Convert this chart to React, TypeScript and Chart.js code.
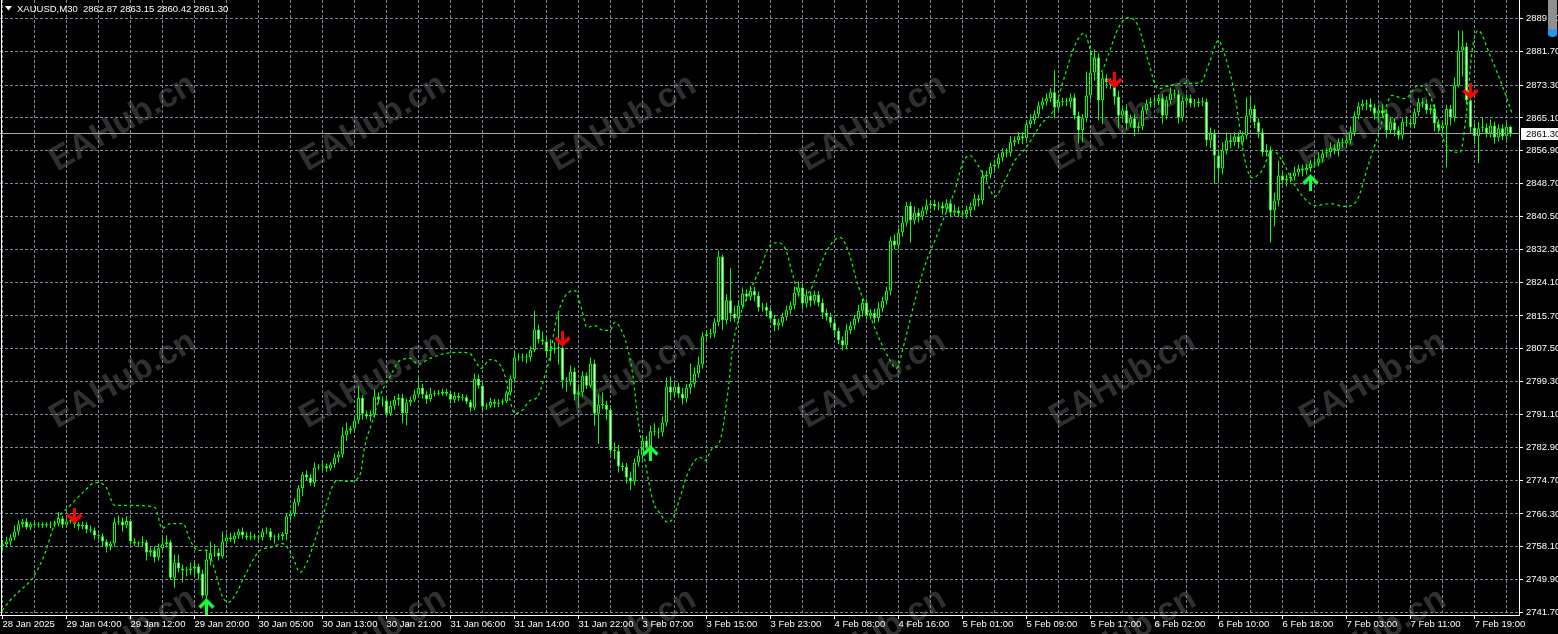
import React, { useEffect, useRef } from "react";
import { Chart, registerables } from "chart.js";

Chart.register(...registerables);

// ---------- data ----------
const symbol = "XAUUSD,M30";
const firstOpen = 2758.2;

const closes = [
  2758.7, 2759.4, 2760.4, 2761.9, 2763.7, 2764.4, 2762.9, 2763.7, 2763.6, 2763.4,
  2763.7, 2763.4, 2763.6, 2763.9, 2765.2, 2763.6, 2764.4, 2764.7, 2763.7, 2763.2,
  2763.6, 2762.4, 2762.2, 2760.9, 2760.7, 2759.4, 2758.2, 2758.9, 2764.2, 2764.4,
  2763.4, 2764.5, 2759.4, 2758.9, 2759.0, 2759.2, 2756.7, 2757.2, 2755.4, 2757.7,
  2758.7, 2759.2, 2750.4, 2754.2, 2752.7, 2752.2, 2752.3, 2752.7, 2753.2, 2751.4,
  2745.9, 2754.9, 2756.4, 2756.7, 2755.7, 2759.4, 2760.4, 2759.9, 2760.9, 2761.9,
  2760.9, 2760.4, 2760.7, 2760.4, 2760.5, 2761.9, 2762.0, 2760.4, 2760.5, 2760.7,
  2761.2, 2765.7, 2766.4, 2769.2, 2772.7, 2776.1, 2775.4, 2774.1, 2777.9, 2778.1,
  2778.2, 2777.6, 2778.6, 2780.4, 2781.1, 2785.9, 2787.1, 2787.6, 2789.6, 2795.3,
  2791.3, 2790.6, 2791.1, 2795.6, 2794.8, 2794.6, 2791.3, 2793.3, 2794.8, 2795.3,
  2791.4, 2794.1, 2794.8, 2796.1, 2797.8, 2796.1, 2794.9, 2796.3, 2796.4, 2796.3,
  2796.8, 2796.3, 2794.8, 2795.8, 2795.3, 2795.4, 2794.3, 2792.8, 2800.1, 2798.3,
  2793.1, 2793.3, 2794.3, 2793.8, 2794.1, 2794.4, 2796.6, 2800.1, 2805.3, 2805.4,
  2805.3, 2805.4, 2807.1, 2812.3, 2809.8, 2809.3, 2806.8, 2807.3, 2807.6, 2807.8,
  2799.6, 2799.3, 2801.8, 2796.1, 2796.6, 2800.8, 2798.3, 2803.8, 2791.3, 2793.6,
  2793.5, 2792.3, 2782.1, 2782.0, 2778.1, 2778.0, 2775.4, 2774.4, 2779.1, 2780.9,
  2784.6, 2782.9, 2786.9, 2786.8, 2786.6, 2789.1, 2798.1, 2796.6, 2798.1, 2796.3,
  2795.1, 2797.8, 2798.8, 2801.3, 2803.6, 2810.6, 2811.1, 2811.3, 2814.1, 2830.5,
  2814.6, 2819.6, 2816.3, 2815.1, 2818.3, 2821.3, 2820.5, 2822.0, 2820.8, 2817.8,
  2818.0, 2817.0, 2815.0, 2813.3, 2814.0, 2815.5, 2817.1, 2818.3, 2821.5, 2822.8,
  2818.8, 2820.8, 2819.5, 2821.0, 2819.0, 2816.5, 2815.5, 2814.0, 2812.0, 2809.6,
  2808.3, 2812.1, 2813.3, 2815.0, 2817.0, 2819.0, 2815.8, 2816.5, 2815.1, 2817.6,
  2819.5, 2822.0, 2834.5, 2833.3, 2836.5, 2839.0, 2843.2, 2839.5, 2841.5, 2840.5,
  2842.0, 2843.3, 2843.7, 2843.0, 2843.2, 2842.5, 2843.8, 2841.5, 2842.0, 2841.3,
  2841.0, 2842.1, 2843.0, 2845.0, 2844.5, 2850.5, 2851.0, 2853.0, 2853.5, 2855.2,
  2856.5, 2856.4, 2859.0, 2859.5, 2860.5, 2860.0, 2863.5, 2864.5, 2866.0, 2868.2,
  2869.2, 2870.0, 2871.5, 2867.7, 2869.2, 2869.0, 2869.1, 2870.2, 2865.7, 2862.0,
  2865.0, 2870.7, 2876.4, 2880.2, 2869.5, 2875.0, 2874.0, 2873.4, 2870.4, 2865.7,
  2867.0, 2863.7, 2865.0, 2862.5, 2863.0, 2867.0, 2868.7, 2869.2, 2869.3, 2870.0,
  2865.7, 2869.5, 2871.2, 2871.0, 2865.2, 2869.4, 2870.0, 2868.7, 2868.8, 2869.0,
  2869.2, 2859.5, 2861.2, 2855.7, 2852.5, 2857.0, 2859.5, 2859.0, 2860.5, 2859.0,
  2860.7, 2865.7, 2867.4, 2864.0, 2861.5, 2856.5, 2857.0, 2842.0, 2844.5, 2850.7,
  2849.5, 2850.0, 2850.5, 2851.5, 2852.5, 2852.0, 2852.6, 2853.7, 2854.0, 2855.0,
  2856.2, 2856.5, 2857.5, 2857.0, 2859.0, 2858.7, 2859.5, 2861.5, 2865.7, 2868.0,
  2868.7, 2868.5, 2867.7, 2866.2, 2867.0, 2866.2, 2862.0, 2864.0, 2862.0, 2860.7,
  2864.0, 2863.9, 2863.5, 2866.5, 2869.0, 2868.7, 2867.0, 2867.5, 2863.7, 2862.5,
  2863.2, 2867.4, 2865.2, 2873.2, 2881.9, 2882.9, 2869.5, 2862.7, 2860.5, 2862.5,
  2862.7, 2861.2, 2863.2, 2860.2, 2862.5, 2860.5, 2862.87, 2861.3,
];

const upperWick = [
  1.0, 1.2, 0.8, 1.5, 1.0, 0.6, 0.8, 0.5, 0.7, 0.6,
  0.5, 0.6, 0.8, 0.7, 1.5, 0.6, 0.8, 0.7, 1.0, 0.6,
  0.8, 0.6, 1.0, 0.7, 0.5, 0.8, 0.6, 0.5, 1.2, 1.5,
  1.0, 1.2, 0.6, 0.8, 0.5, 1.5, 0.6, 0.8, 1.0, 1.2,
  2.0, 1.8, 0.5, 2.0, 2.0, 1.0, 0.8, 1.5, 1.0, 0.7,
  1.0, 2.5, 3.0, 2.0, 1.0, 2.5, 1.0, 1.2, 0.8, 0.7,
  1.0, 0.8, 1.2, 0.6, 0.5, 0.8, 1.0, 0.7, 0.6, 0.8,
  0.6, 0.7, 0.8, 1.0, 0.8, 0.6, 1.0, 0.8, 1.2, 0.6,
  0.8, 0.7, 0.6, 1.0, 0.8, 2.0, 2.0, 0.7, 1.0, 3.0,
  0.6, 0.8, 1.0, 1.8, 1.0, 0.8, 1.0, 1.2, 0.9, 1.0,
  1.0, 1.0, 0.8, 1.2, 2.5, 1.0, 0.8, 1.5, 0.6, 0.8,
  0.7, 0.8, 0.6, 1.0, 0.7, 0.8, 0.6, 0.5, 1.2, 1.0,
  0.8, 0.6, 1.0, 0.7, 0.8, 0.6, 0.5, 0.8, 1.5, 1.0,
  1.0, 0.8, 1.0, 4.7, 1.2, 2.0, 1.0, 2.5, 1.5, 8.5,
  1.0, 0.8, 1.5, 1.0, 2.0, 1.0, 0.8, 1.5, 1.0, 2.5,
  3.0, 1.0, 1.0, 2.0, 1.5, 1.0, 1.0, 1.5, 1.0, 1.5,
  1.0, 1.2, 1.5, 2.0, 1.0, 1.5, 2.2, 2.5, 1.0, 1.0,
  1.5, 1.0, 5.0, 1.5, 2.0, 1.0, 1.0, 1.2, 1.0, 1.5,
  0.5, 1.5, 8.0, 2.0, 1.0, 1.5, 1.0, 1.2, 1.0, 1.0,
  1.0, 1.0, 0.8, 1.0, 1.0, 1.0, 1.2, 1.0, 1.5, 1.5,
  1.0, 1.5, 1.0, 1.0, 1.0, 1.0, 1.0, 1.0, 1.0, 0.8,
  1.0, 1.5, 1.0, 1.0, 1.5, 1.0, 1.0, 1.0, 1.0, 1.5,
  1.0, 1.0, 1.0, 1.5, 1.0, 1.5, 1.0, 1.0, 1.5, 1.0,
  1.0, 1.5, 0.8, 1.0, 1.0, 1.0, 1.0, 1.0, 1.5, 1.0,
  0.8, 1.0, 1.0, 1.2, 1.0, 1.5, 1.0, 1.0, 1.2, 1.0,
  1.0, 1.0, 1.5, 1.0, 1.0, 1.0, 1.0, 1.5, 1.0, 1.0,
  1.0, 1.2, 1.0, 5.5, 1.5, 1.0, 1.0, 1.0, 1.0, 1.0,
  1.0, 6.0, 5.7, 2.0, 1.0, 1.5, 1.0, 1.0, 1.0, 1.5,
  1.0, 1.5, 1.0, 1.0, 1.0, 1.0, 1.0, 1.0, 1.0, 1.0,
  1.0, 1.0, 1.5, 1.0, 1.0, 1.0, 1.0, 1.0, 1.0, 1.0,
  1.0, 0.8, 1.5, 1.0, 1.5, 2.0, 2.0, 1.5, 1.0, 1.0,
  1.0, 4.5, 3.0, 1.0, 1.0, 1.0, 1.5, 1.0, 2.0, 3.7,
  1.0, 1.0, 1.0, 1.5, 1.0, 1.0, 1.0, 1.0, 1.0, 1.5,
  1.0, 1.0, 1.5, 1.0, 1.0, 1.0, 1.0, 1.5, 1.0, 1.0,
  1.0, 1.0, 1.5, 1.0, 1.0, 1.5, 1.0, 1.0, 1.0, 1.0,
  1.0, 1.5, 1.0, 1.0, 1.0, 1.0, 1.0, 1.0, 1.0, 1.0,
  1.0, 1.0, 1.0, 2.0, 5.0, 4.0, 1.0, 1.0, 1.0, 1.5,
  2.5, 1.0, 1.5, 1.0, 1.0, 1.0, 1.0, 0.28,
];

const lowerWick = [
  1.2, 0.8, 1.0, 0.7, 1.0, 0.8, 0.5, 0.6, 0.9, 0.5,
  0.6, 0.5, 0.7, 0.6, 0.8, 0.9, 0.6, 0.5, 0.9, 1.0,
  0.7, 0.9, 0.6, 1.0, 0.8, 1.2, 1.5, 1.0, 0.8, 0.6,
  1.5, 0.7, 0.8, 0.6, 0.9, 0.7, 2.0, 1.0, 1.2, 0.8,
  0.6, 0.8, 0.6, 2.5, 1.0, 3.0, 1.5, 1.2, 2.0, 1.5,
  0.6, 1.0, 1.5, 0.8, 1.0, 0.5, 0.8, 0.6, 1.0, 0.8,
  0.8, 0.6, 0.7, 0.5, 1.0, 0.9, 0.6, 0.7, 1.5, 0.8,
  1.0, 1.5, 1.2, 0.8, 1.0, 2.0, 0.7, 0.8, 1.0, 0.7,
  1.0, 0.8, 0.6, 0.8, 1.2, 0.8, 1.5, 0.8, 1.0, 0.8,
  1.5, 0.6, 1.2, 0.8, 1.0, 1.5, 0.8, 0.6, 1.0, 1.5,
  2.5, 3.0, 0.8, 0.6, 0.7, 1.0, 1.2, 0.6, 0.8, 0.5,
  0.5, 0.6, 1.0, 0.8, 0.9, 0.7, 0.6, 1.0, 0.6, 0.8,
  1.0, 0.8, 0.6, 1.0, 0.8, 0.6, 0.5, 0.8, 1.0, 0.8,
  1.0, 1.5, 1.0, 0.5, 1.0, 0.8, 1.2, 2.5, 1.0, 4.0,
  2.0, 2.5, 1.0, 1.5, 3.0, 1.0, 0.8, 0.5, 3.0, 7.5,
  1.0, 2.5, 1.0, 2.0, 1.5, 1.0, 1.5, 2.2, 1.0, 1.0,
  1.0, 1.5, 0.8, 1.0, 1.5, 1.0, 1.0, 2.0, 1.0, 1.0,
  1.5, 1.0, 1.5, 1.0, 1.0, 1.0, 1.0, 1.0, 1.0, 1.0,
  2.5, 1.0, 2.0, 1.0, 1.0, 0.8, 1.0, 1.0, 1.5, 1.0,
  1.0, 1.5, 1.0, 1.5, 1.2, 1.0, 1.0, 1.0, 1.0, 1.0,
  1.5, 1.0, 1.5, 1.0, 1.0, 1.5, 1.0, 1.2, 1.5, 1.0,
  1.2, 1.0, 1.0, 1.0, 1.0, 1.5, 1.0, 1.0, 1.2, 1.0,
  1.0, 1.0, 1.2, 1.0, 1.0, 1.0, 1.0, 5.5, 1.0, 1.5,
  1.0, 1.0, 1.0, 1.0, 1.0, 1.5, 1.0, 1.2, 1.0, 1.0,
  1.0, 1.0, 1.5, 1.0, 1.5, 1.0, 1.0, 1.0, 1.0, 1.0,
  1.0, 1.2, 1.0, 1.0, 1.0, 1.5, 1.0, 1.0, 1.0, 1.0,
  1.0, 1.0, 1.0, 2.7, 1.0, 1.0, 1.0, 1.5, 1.0, 3.2,
  3.0, 1.0, 1.0, 2.0, 5.0, 6.0, 1.5, 1.0, 2.0, 3.0,
  1.0, 1.5, 1.0, 2.0, 1.0, 1.0, 1.0, 1.0, 1.0, 1.0,
  2.0, 1.0, 1.0, 1.0, 1.5, 1.0, 1.0, 1.0, 1.0, 1.0,
  1.0, 1.5, 2.0, 7.0, 3.7, 1.5, 1.0, 1.5, 1.0, 1.5,
  1.0, 1.0, 1.0, 1.5, 1.5, 1.0, 1.0, 8.0, 4.0, 1.5,
  1.0, 1.5, 1.0, 1.0, 1.0, 1.5, 1.0, 1.0, 1.0, 1.0,
  1.0, 1.0, 1.0, 1.0, 1.5, 1.0, 1.0, 1.0, 1.0, 1.0,
  1.0, 1.5, 1.0, 1.5, 2.0, 1.0, 2.0, 1.0, 1.5, 1.0,
  1.0, 1.0, 1.0, 1.0, 1.0, 1.0, 1.0, 1.0, 2.0, 1.0,
  1.5, 10.5, 2.0, 1.0, 0.5, 6.5, 1.0, 1.5, 2.0, 6.7,
  1.0, 1.0, 1.0, 1.5, 1.0, 1.0, 1.0, 0.88,
];

// dashed band indicator (bar index, price)
const bandIdx = [
  -0.1, 1.9, 4.4, 7.6, 10.6, 13.1, 16.9, 20.6, 23.1, 25.6, 28.1, 31.9, 38.1, 39.9, 41.9, 45.1,
  46.9, 48.9, 51.1, 53.1, 54.9, 56.4, 58.1, 60.6, 64.4, 66.9, 70.1, 72.4, 74.4, 76.1, 78.1, 80.1,
  83.6, 86.9, 89.4, 90.6, 92.4, 94.4, 96.9, 99.4, 101.9, 103.9, 106.9, 110.6, 114.4, 116.9, 118.4,
  119.6, 121.9, 123.9, 125.6, 126.9, 128.1, 129.9, 131.9, 133.6, 135.6, 136.9, 138.4, 140.6, 143.1,
  144.9, 146.1, 148.1, 150.1, 151.9, 153.1, 154.4, 156.1, 157.6, 158.9, 160.6, 162.6, 164.4, 166.4,
  167.6, 169.4, 171.1, 173.1, 174.4, 175.6, 177.4, 179.4, 181.4, 182.6, 184.4, 186.9, 189.4, 191.9,
  193.9, 195.9, 197.6, 199.4, 201.9, 204.4, 206.9, 209.4, 211.4, 213.9, 216.4, 219.4, 221.9, 223.4,
  225.6, 228.1, 230.6, 233.1, 235.6, 238.1, 240.1, 241.9, 243.9, 245.9, 248.1, 250.6, 253.1, 255.9,
  259.4, 263.1, 265.6, 268.1, 270.4, 272.4, 274.4, 276.4, 278.9, 281.4, 283.9, 286.4, 288.9, 291.9,
  295.6, 299.4, 301.9, 303.9, 305.6, 308.1, 310.6, 312.4, 314.9, 317.4, 319.9, 322.4, 324.9, 328.1,
  331.9, 335.6, 338.6, 341.4, 343.9, 347.4, 350.6, 353.9, 356.9, 359.4, 361.9, 364.4, 365.9, 367.4,
  368.9, 371.9, 375.1, 377.4,
];
const bandVal = [
  2742.2, 2744.7, 2747.2, 2750.4, 2756.4, 2763.9, 2768.4, 2772.1, 2774.1, 2773.4, 2768.4, 2768.4, 2767.9, 2762.7, 2763.9, 2763.9,
  2759.7, 2757.2, 2757.2, 2752.2, 2745.9, 2744.2, 2745.9, 2750.9, 2757.2, 2757.9, 2758.9, 2755.9, 2751.7, 2754.2, 2759.7, 2765.9,
  2774.6, 2774.4, 2776.1, 2783.4, 2789.1, 2795.8, 2800.6, 2804.6, 2805.1, 2803.6, 2805.1, 2806.3, 2806.6, 2806.3, 2804.1,
  2802.6, 2804.8, 2804.1, 2800.8, 2794.6, 2791.3, 2792.1, 2794.6, 2795.3, 2800.8, 2805.8, 2814.5, 2820.5, 2822.0,
  2817.0, 2812.8, 2813.3, 2812.1, 2812.1, 2814.1, 2812.8, 2808.3, 2800.8, 2789.6, 2779.6, 2769.6, 2766.4, 2764.2,
  2765.2, 2770.4, 2775.9, 2779.6, 2780.4, 2779.6, 2782.6, 2784.6, 2797.1, 2808.3, 2815.8, 2822.0, 2827.5, 2833.3,
  2834.0, 2832.0, 2825.8, 2820.8, 2822.0, 2828.3, 2833.3, 2835.3, 2832.0, 2823.3, 2817.0, 2809.5, 2804.6, 2802.6,
  2809.5, 2819.6, 2828.3, 2834.5, 2840.8, 2847.0, 2854.0, 2855.7, 2853.2, 2849.5, 2845.5, 2849.5, 2854.5, 2857.7,
  2863.2, 2867.7, 2875.7, 2883.2, 2886.2, 2880.7, 2876.4, 2880.7, 2887.4, 2890.1, 2888.1, 2879.4, 2872.4, 2873.2,
  2873.7, 2873.9, 2879.4, 2884.4, 2880.7, 2870.7, 2854.5, 2850.2, 2852.0, 2857.0, 2854.5, 2849.5, 2845.7, 2843.2,
  2843.7, 2843.0, 2844.5, 2853.2, 2860.7, 2870.7, 2869.9, 2873.2, 2870.7, 2861.9, 2857.0, 2856.5, 2865.7, 2881.9,
  2886.9, 2880.7, 2872.7, 2866.2,
];

// signal arrows (bar index, price at arrow centre)
const sellIdx = [18, 140, 278, 367];
const sellPrice = [2765.65, 2809.81, 2874.31, 2871.56];
const buyIdx = [51, 162, 327];
const buyPrice = [2743.44, 2781.62, 2849.23];

const yTickValues = [
  2889.9, 2881.7, 2873.3, 2865.1, 2856.9, 2848.7, 2840.5, 2832.3, 2824.1, 2815.7,
  2807.5, 2799.3, 2791.1, 2782.9, 2774.7, 2766.3, 2758.1, 2749.9, 2741.7,
];
const xTickLabels = [
  "28 Jan 2025", "29 Jan 04:00", "29 Jan 12:00", "29 Jan 20:00", "30 Jan 05:00", "30 Jan 13:00",
  "30 Jan 21:00", "31 Jan 06:00", "31 Jan 14:00", "31 Jan 22:00", "3 Feb 07:00", "3 Feb 15:00",
  "3 Feb 23:00", "4 Feb 08:00", "4 Feb 16:00", "5 Feb 01:00", "5 Feb 09:00", "5 Feb 17:00",
  "6 Feb 02:00", "6 Feb 10:00", "6 Feb 18:00", "7 Feb 03:00", "7 Feb 11:00", "7 Feb 19:00",
];
const labelEvery = 16;
const gridEvery = 8;

// ---------- derived ----------
const opens = closes.map((c, i) => (i === 0 ? firstOpen : closes[i - 1]));
const highs = closes.map((c, i) => Math.max(opens[i], c) + upperWick[i]);
const lows = closes.map((c, i) => Math.min(opens[i], c) - lowerWick[i]);
const last = closes.length - 1;

const FONT = "'Liberation Sans', Arial, Helvetica, sans-serif";
const LIME = "#00ff00";
const GRID = "#778899";

function makeArrow(color: string, down: boolean): HTMLCanvasElement {
  const c = document.createElement("canvas");
  c.width = 17;
  c.height = 18;
  const g = c.getContext("2d")!;
  g.save();
  if (!down) {
    g.translate(0, 18);
    g.scale(1, -1);
  }
  g.fillStyle = color;
  g.strokeStyle = color;
  g.fillRect(7, 0, 3, 12);
  g.lineWidth = 3.5;
  g.lineJoin = "miter";
  g.lineCap = "butt";
  g.beginPath();
  g.moveTo(1.5, 7);
  g.lineTo(8.5, 14);
  g.lineTo(15.5, 7);
  g.stroke();
  g.restore();
  return c;
}

function zeroPadding(s: any) {
  s.paddingTop = 0;
  s.paddingBottom = 0;
  s.paddingLeft = 0;
  s.paddingRight = 0;
}

export default function App() {
  const ref = useRef<HTMLCanvasElement | null>(null);

  useEffect(() => {
    if (!ref.current) return;
    const redArrow = makeArrow("#ff0000", true);
    const greenArrow = makeArrow("#19ff3c", false);

    const gridTicks: number[] = [];
    for (let v = 0; v <= last; v += gridEvery) gridTicks.push(v);

    const backgroundPlugin = {
      id: "mtBackground",
      beforeDraw(chart: any) {
        const { ctx, width, height } = chart;
        ctx.save();
        ctx.fillStyle = "#000000";
        ctx.fillRect(0, 0, width, height);
        ctx.font = `bold 34px ${FONT}`;
        ctx.fillStyle = "#303030";
        ctx.textAlign = "center";
        ctx.textBaseline = "middle";
        const rows = [123, 380, 637];
        for (const ry of rows) {
          for (let j = 0; j < 6; j++) {
            ctx.save();
            ctx.translate(123 + 250 * j, ry);
            ctx.rotate((-30 * Math.PI) / 180);
            ctx.fillText("EAHub.cn", 0, 0);
            ctx.restore();
          }
        }
        ctx.restore();
      },
      beforeDatasetsDraw(chart: any) {
        const { ctx, chartArea } = chart;
        const y = chart.scales.y.getPixelForValue(closes[last]);
        ctx.save();
        ctx.strokeStyle = "#a8a8a8";
        ctx.lineWidth = 1;
        ctx.beginPath();
        ctx.moveTo(chartArea.left, Math.floor(y) + 0.5);
        ctx.lineTo(chartArea.right, Math.floor(y) + 0.5);
        ctx.stroke();
        ctx.restore();
      },
      afterDraw(chart: any) {
        const { ctx, chartArea } = chart;
        ctx.save();
        // left frame
        ctx.strokeStyle = "#ffffff";
        ctx.lineWidth = 1;
        ctx.beginPath();
        ctx.moveTo(1.5, chartArea.top);
        ctx.lineTo(1.5, chartArea.bottom);
        ctx.stroke();
        // header
        ctx.fillStyle = "#ffffff";
        ctx.beginPath();
        ctx.moveTo(5, 6);
        ctx.lineTo(12, 6);
        ctx.lineTo(8.5, 10.5);
        ctx.closePath();
        ctx.fill();
        ctx.font = `9.5px ${FONT}`;
        ctx.textBaseline = "alphabetic";
        ctx.textAlign = "left";
        const header = `${symbol}  ${opens[last].toFixed(2)} ${highs[last].toFixed(2)} ${lows[last].toFixed(2)} ${closes[last].toFixed(2)}`;
        ctx.fillText(header, 17, 12);
        // price box
        const py = chart.scales.y.getPixelForValue(closes[last]);
        ctx.fillStyle = "#ffffff";
        ctx.fillRect(1521, Math.floor(py) - 5, 37, 12);
        ctx.fillStyle = "#000000";
        ctx.textBaseline = "middle";
        ctx.fillText(closes[last].toFixed(2), 1526, Math.floor(py) + 1);
        // scroll marker top-right
        ctx.fillStyle = "#8f8f8f";
        ctx.fillRect(1548, 0, 9, 30);
        ctx.fillStyle = "#2196f3";
        ctx.beginPath();
        ctx.moveTo(1548, 29);
        ctx.lineTo(1557, 29);
        ctx.lineTo(1557, 34);
        ctx.quadraticCurveTo(1557, 37, 1552.5, 37);
        ctx.quadraticCurveTo(1548, 37, 1548, 34);
        ctx.closePath();
        ctx.fill();
        ctx.restore();
      },
    };

    const chart = new Chart(ref.current, {
      type: "bar",
      data: {
        datasets: [
          {
            type: "scatter",
            label: "sell",
            data: sellIdx.map((x, i) => ({ x, y: sellPrice[i] })),
            pointStyle: redArrow as any,
            pointRadius: 8,
            order: 0,
          } as any,
          {
            type: "scatter",
            label: "buy",
            data: buyIdx.map((x, i) => ({ x, y: buyPrice[i] })),
            pointStyle: greenArrow as any,
            pointRadius: 8,
            order: 0,
          } as any,
          {
            type: "line",
            label: "band",
            data: bandIdx.map((x, i) => ({ x, y: bandVal[i] })),
            borderColor: "#00ff00",
            borderWidth: 1.25,
            borderDash: [3, 3],
            pointRadius: 0,
            cubicInterpolationMode: "monotone",
            fill: false,
            order: 1,
          } as any,
          {
            type: "bar",
            label: "body",
            data: closes.map((c, i) => ({ x: i, y: [opens[i], c] })),
            backgroundColor: closes.map((c, i) => (c >= opens[i] ? "#000000" : "#ffffff")),
            borderColor: LIME,
            borderWidth: 1,
            borderSkipped: false,
            barThickness: 3,
            grouped: false,
            inflateAmount: 0,
            minBarLength: 1,
            order: 2,
          } as any,
          {
            type: "bar",
            label: "wick",
            data: lows.map((l, i) => ({ x: i, y: [l, highs[i]] })),
            backgroundColor: LIME,
            borderWidth: 0,
            barThickness: 1,
            grouped: false,
            inflateAmount: 0,
            order: 3,
          } as any,
        ],
      },
      options: {
        responsive: false,
        animation: false,
        devicePixelRatio: 1,
        events: [],
        layout: { padding: 0, autoPadding: false },
        plugins: { legend: { display: false }, tooltip: { enabled: false }, title: { display: false } },
        scales: {
          x: {
            type: "linear",
            min: -0.625,
            max: 379.125,
            offset: false,
            afterBuildTicks: (s: any) => {
              s.ticks = gridTicks.map((v) => ({ value: v }));
            },
            afterFit: (s: any) => {
              s.height = 19;
              zeroPadding(s);
            },
            grid: {
              offset: false,
              color: GRID,
              lineWidth: 1,
              drawTicks: true,
              tickLength: 4,
              tickWidth: 1,
              tickBorderDash: [],
              tickColor: (c: any) =>
                c.tick && Math.round(c.tick.value) % labelEvery === 0 ? "#ffffff" : "rgba(0,0,0,0)",
            },
            border: { display: true, color: "#ffffff", width: 1, dash: [3, 2] },
            ticks: {
              autoSkip: false,
              maxRotation: 0,
              minRotation: 0,
              align: "start",
              padding: 0,
              color: "#ffffff",
              font: { family: FONT, size: 9.5 },
              callback: (v: any) => {
                const n = Math.round(Number(v));
                return n % labelEvery === 0 ? xTickLabels[n / labelEvery] ?? "" : "";
              },
            },
          } as any,
          y: {
            type: "linear",
            position: "right",
            min: 2741.076,
            max: 2894.516,
            beginAtZero: false,
            afterBuildTicks: (s: any) => {
              s.ticks = [...yTickValues].reverse().map((v) => ({ value: v }));
            },
            afterFit: (s: any) => {
              s.width = 39;
              zeroPadding(s);
            },
            grid: {
              color: GRID,
              lineWidth: 1,
              drawTicks: true,
              tickLength: 4,
              tickWidth: 1,
              tickBorderDash: [],
              tickColor: "#ffffff",
            },
            border: { display: true, color: "#ffffff", width: 1, dash: [3, 2] },
            ticks: {
              autoSkip: false,
              crossAlign: "near",
              padding: 3,
              color: "#ffffff",
              font: { family: FONT, size: 9.5 },
              callback: (v: any) => Number(v).toFixed(2),
            },
          } as any,
        },
      },
      plugins: [backgroundPlugin as any],
    });

    return () => chart.destroy();
  }, []);

  return (
    <div style={{ position: "fixed", left: 0, top: 0, width: 1558, height: 634, background: "#000" }}>
      <canvas ref={ref} width={1558} height={634} style={{ display: "block" }} />
    </div>
  );
}
